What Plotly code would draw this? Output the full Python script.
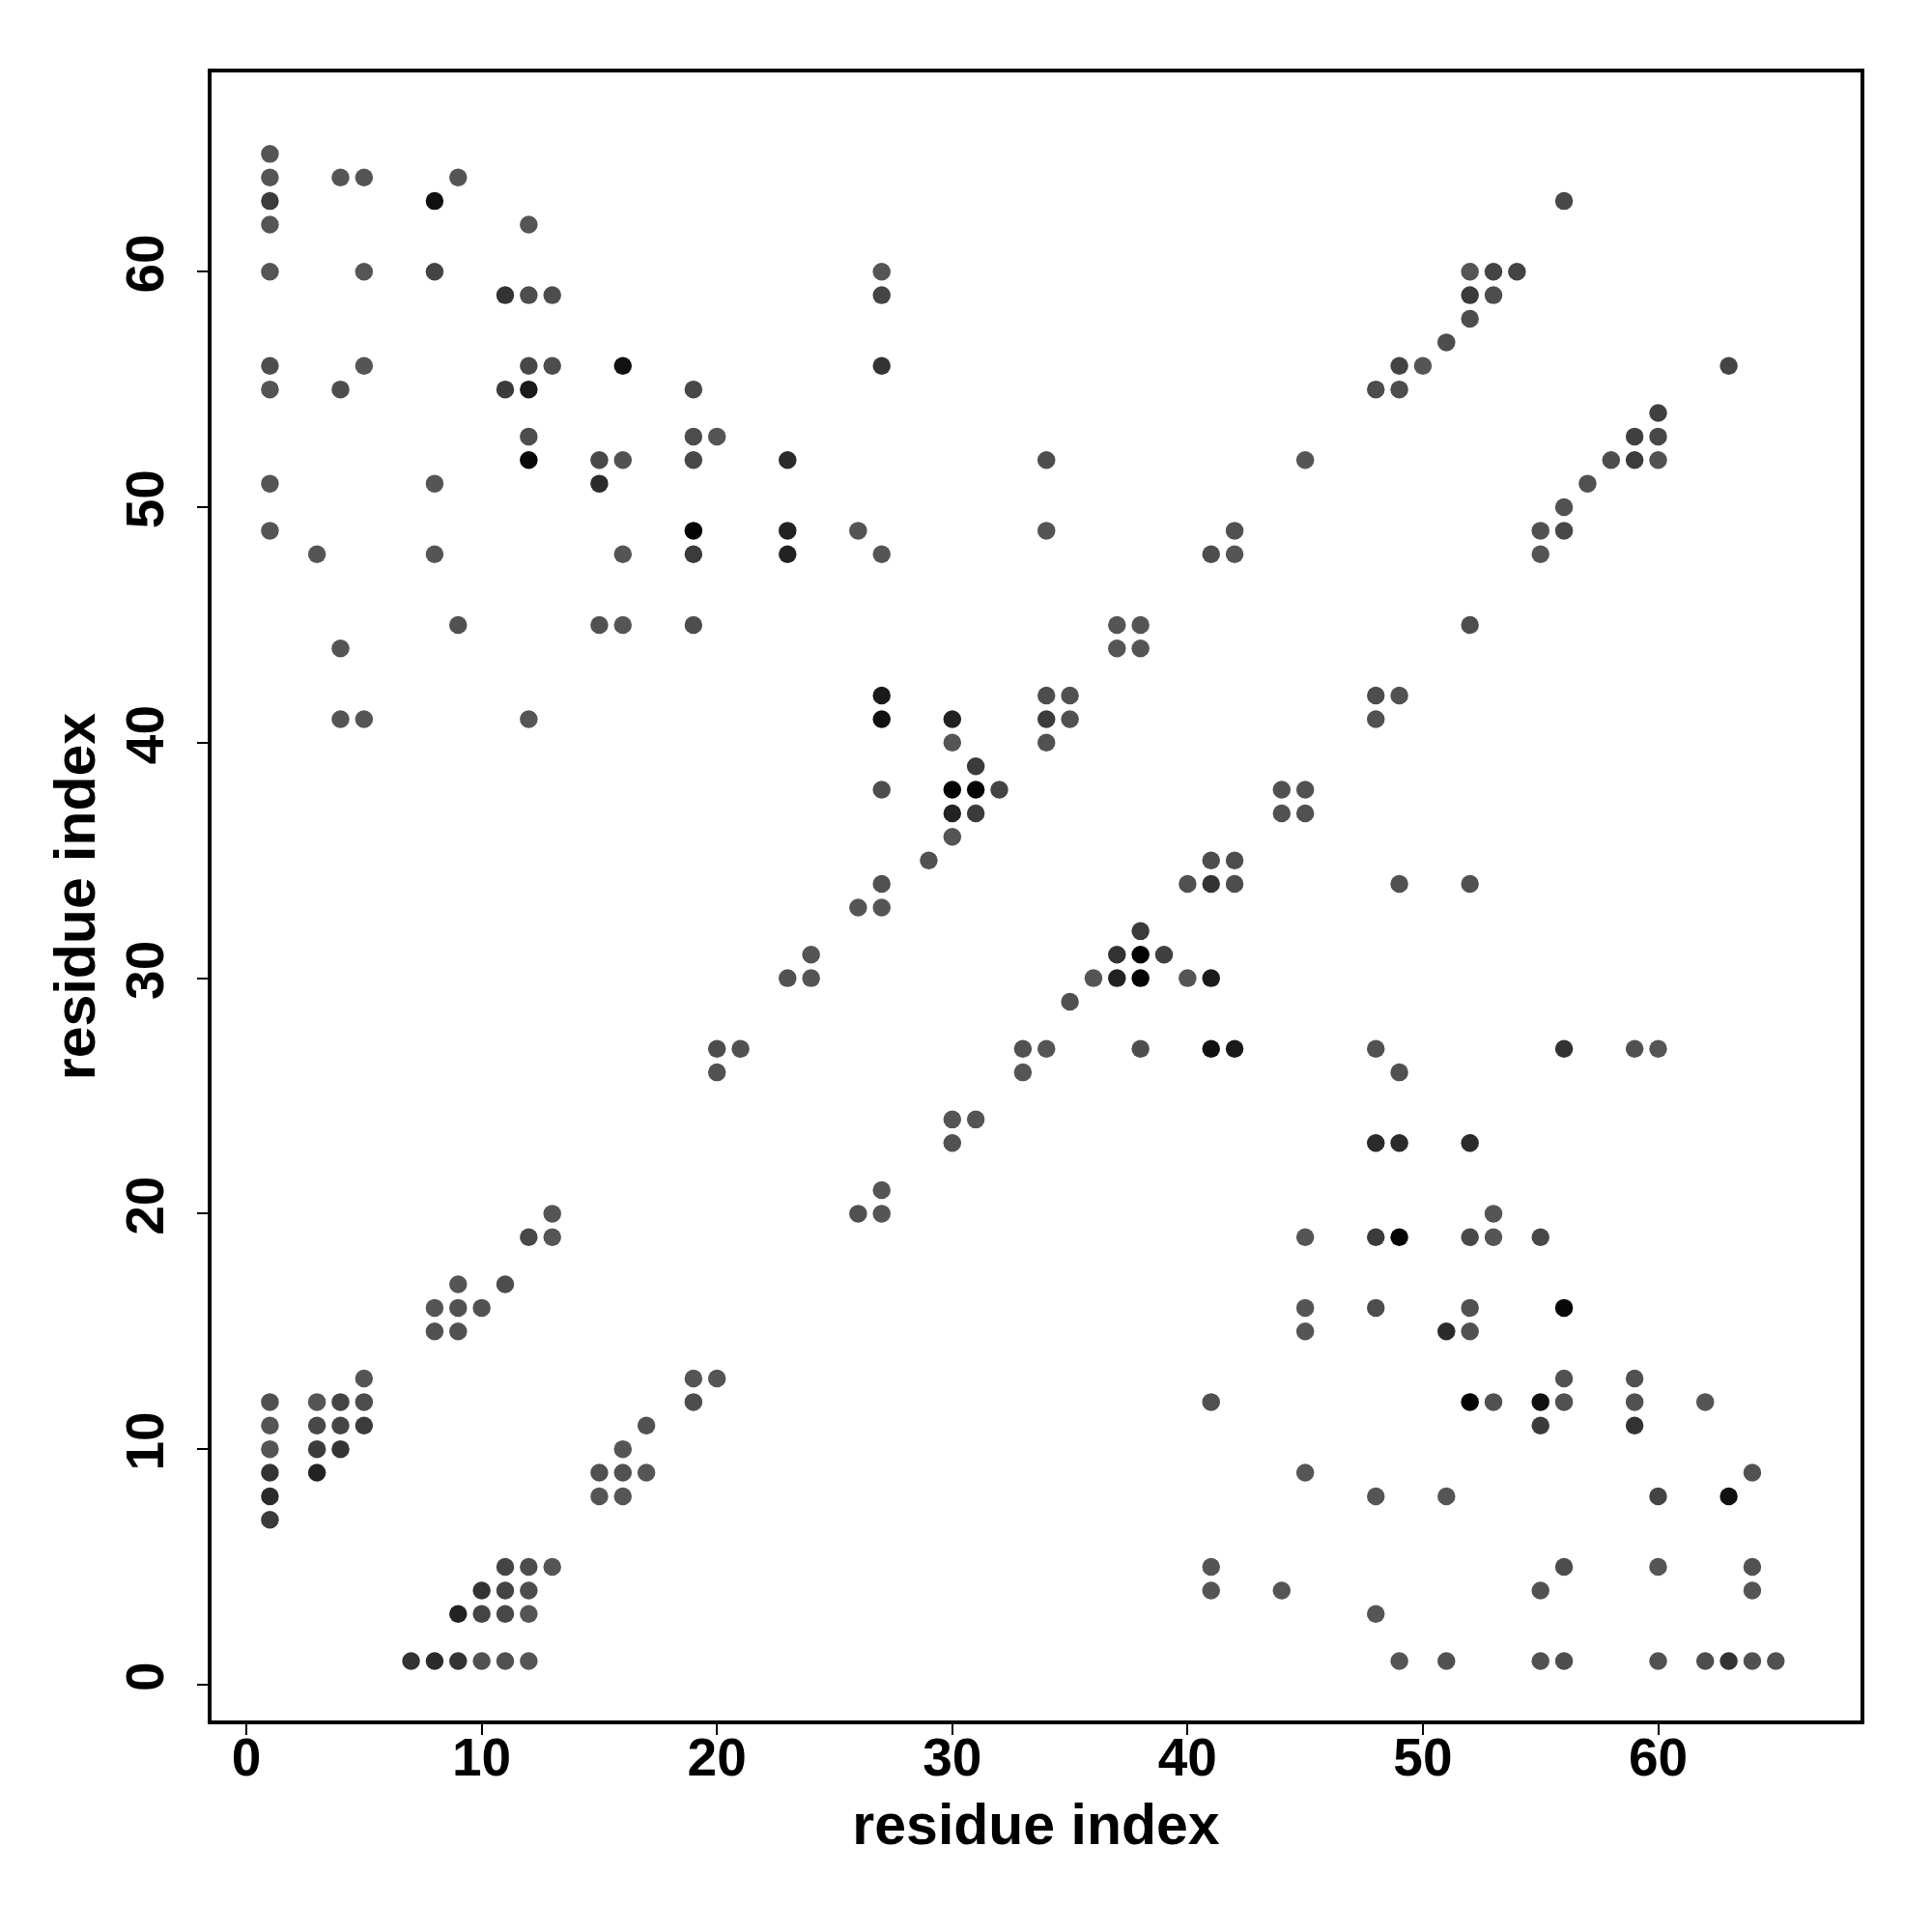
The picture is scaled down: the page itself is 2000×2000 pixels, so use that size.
import plotly.graph_objects as go

# residue contacts: x index, y index, contact strength (0 = weak/grey, 1 = strong/black)
contact_x = [
    1,                                   # y=65
    1, 4, 5, 9,                          # y=64
    1, 8, 56,                            # y=63
    1, 12,                               # y=62
    1, 5, 8, 27, 52, 53, 54,             # y=60
    11, 12, 13, 27, 52, 53,              # y=59
    52,                                  # y=58
    51,                                  # y=57
    1, 5, 12, 13, 16, 27, 49, 50, 63,    # y=56
    1, 4, 11, 12, 19, 48, 49,            # y=55
    60,                                  # y=54
    12, 19, 20, 59, 60,                  # y=53
    12, 15, 16, 19, 23, 34, 45, 58, 59, 60,  # y=52
    1, 8, 15, 57,                        # y=51
    56,                                  # y=50
    1, 19, 23, 26, 34, 42, 55, 56,       # y=49
    3, 8, 16, 19, 23, 27, 41, 42, 55,    # y=48
    9, 15, 16, 19, 37, 38, 52,           # y=45
    4, 37, 38,                           # y=44
    27, 34, 35, 48, 49,                  # y=42
    4, 5, 12, 27, 30, 34, 35, 48,        # y=41
    30, 34,                              # y=40
    31,                                  # y=39
    27, 30, 31, 32, 44, 45,              # y=38
    30, 31, 44, 45,                      # y=37
    30,                                  # y=36
    29, 41, 42,                          # y=35
    27, 40, 41, 42, 49, 52,              # y=34
    26, 27,                              # y=33
    38,                                  # y=32
    24, 37, 38, 39,                      # y=31
    23, 24, 36, 37, 38, 40, 41,          # y=30
    35,                                  # y=29
    20, 21, 33, 34, 38, 41, 42, 48, 56, 59, 60,  # y=27
    20, 33, 49,                          # y=26
    30, 31,                              # y=24
    30, 48, 49, 52,                      # y=23
    27,                                  # y=21
    13, 26, 27, 53,                      # y=20
    12, 13, 45, 48, 49, 52, 53, 55,      # y=19
    9, 11,                               # y=17
    8, 9, 10, 45, 48, 52, 56,            # y=16
    8, 9, 45, 51, 52,                    # y=15
    5, 19, 20, 56, 59,                   # y=13
    1, 3, 4, 5, 19, 41, 52, 53, 55, 56, 59, 62,  # y=12
    1, 3, 4, 5, 17, 55, 59,              # y=11
    1, 3, 4, 16,                         # y=10
    1, 3, 15, 16, 17, 45, 64,            # y=9
    1, 15, 16, 48, 51, 60, 63,           # y=8
    1,                                   # y=7
    11, 12, 13, 41, 56, 60, 64,          # y=5
    10, 11, 12, 41, 44, 55, 64,          # y=4
    9, 10, 11, 12, 48,                   # y=3
    7, 8, 9, 10, 11, 12, 49, 51, 55, 56, 60, 62, 63, 64, 65,  # y=1
]

contact_y = [
    65,
    64, 64, 64, 64,
    63, 63, 63,
    62, 62,
    60, 60, 60, 60, 60, 60, 60,
    59, 59, 59, 59, 59, 59,
    58,
    57,
    56, 56, 56, 56, 56, 56, 56, 56, 56,
    55, 55, 55, 55, 55, 55, 55,
    54,
    53, 53, 53, 53, 53,
    52, 52, 52, 52, 52, 52, 52, 52, 52, 52,
    51, 51, 51, 51,
    50,
    49, 49, 49, 49, 49, 49, 49, 49,
    48, 48, 48, 48, 48, 48, 48, 48, 48,
    45, 45, 45, 45, 45, 45, 45,
    44, 44, 44,
    42, 42, 42, 42, 42,
    41, 41, 41, 41, 41, 41, 41, 41,
    40, 40,
    39,
    38, 38, 38, 38, 38, 38,
    37, 37, 37, 37,
    36,
    35, 35, 35,
    34, 34, 34, 34, 34, 34,
    33, 33,
    32,
    31, 31, 31, 31,
    30, 30, 30, 30, 30, 30, 30,
    29,
    27, 27, 27, 27, 27, 27, 27, 27, 27, 27, 27,
    26, 26, 26,
    24, 24,
    23, 23, 23, 23,
    21,
    20, 20, 20, 20,
    19, 19, 19, 19, 19, 19, 19, 19,
    17, 17,
    16, 16, 16, 16, 16, 16, 16,
    15, 15, 15, 15, 15,
    13, 13, 13, 13, 13,
    12, 12, 12, 12, 12, 12, 12, 12, 12, 12, 12, 12,
    11, 11, 11, 11, 11, 11, 11,
    10, 10, 10, 10,
    9, 9, 9, 9, 9, 9, 9,
    8, 8, 8, 8, 8, 8, 8,
    7,
    5, 5, 5, 5, 5, 5, 5,
    4, 4, 4, 4, 4, 4, 4,
    3, 3, 3, 3, 3,
    1, 1, 1, 1, 1, 1, 1, 1, 1, 1, 1, 1, 1, 1, 1,
]

contact_strength = [
    0,
    0, 0, 0, 0,
    0.3, 0.8, 0.15,
    0, 0,
    0, 0, 0.2, 0, 0, 0.2, 0.2,
    0.4, 0.1, 0.1, 0.2, 0.3, 0.1,
    0.1,
    0.1,
    0.1, 0, 0.15, 0.1, 0.8, 0.4, 0.2, 0, 0.2,
    0, 0.1, 0.3, 0.7, 0.15, 0.1, 0.1,
    0.25,
    0.1, 0.1, 0, 0.25, 0.15,
    0.9, 0.15, 0.05, 0.15, 0.5, 0.1, 0, 0.1, 0.3, 0.05,
    0, 0, 0.5, 0.05,
    0.05,
    0, 0.95, 0.6, 0, 0, 0.05, 0.05, 0.15,
    0, 0, 0, 0.3, 0.6, 0, 0.1, 0, 0,
    0.05, 0.05, 0, 0.1, 0, 0, 0.1,
    0, 0, 0,
    0.7, 0.1, 0.05, 0.1, 0.05,
    0, 0, 0, 0.8, 0.6, 0.3, 0.05, 0.05,
    0, 0.05,
    0.3,
    0.1, 0.95, 0.95, 0.2, 0.05, 0.05,
    0.6, 0.3, 0.05, 0.05,
    0,
    0.05, 0.1, 0.1,
    0.05, 0.05, 0.4, 0.1, 0.05, 0.05,
    0, 0,
    0.3,
    0, 0.4, 0.95, 0.25,
    0.05, 0, 0, 0.6, 0.95, 0, 0.7,
    0.05,
    0.1, 0.05, 0.05, 0, 0.1, 0.8, 0.7, 0.05, 0.4, 0.05, 0,
    0.05, 0, 0.05,
    0, 0,
    0.05, 0.5, 0.5, 0.5,
    0,
    0, 0.05, 0, 0,
    0.15, 0, 0, 0.3, 0.95, 0.15, 0, 0.15,
    0, 0.1,
    0, 0.05, 0.05, 0, 0.1, 0.05, 0.9,
    0.05, 0.05, 0, 0.5, 0.05,
    0, 0, 0, 0.05, 0.05,
    0.05, 0, 0.2, 0.1, 0.1, 0.05, 0.95, 0.05, 0.8, 0.05, 0.05, 0,
    0, 0.15, 0.2, 0.3, 0.05, 0.3, 0.4,
    0, 0.3, 0.4, 0,
    0.4, 0.6, 0.05, 0.05, 0, 0, 0.05,
    0.5, 0, 0, 0, 0, 0.2, 0.8,
    0.3,
    0.2, 0.1, 0, 0, 0.1, 0, 0.05,
    0.4, 0.2, 0.1, 0, 0, 0.05, 0,
    0.6, 0.2, 0.15, 0, 0,
    0.4, 0.5, 0.4, 0.05, 0.05, 0, 0, 0.05, 0.05, 0.1, 0.05, 0.1, 0.4, 0.05, 0.05,
]

assert len(contact_x) == len(contact_y) == len(contact_strength)

tick_values = [0, 10, 20, 30, 40, 50, 60]
axis_title = "residue index"

FONT = "Liberation Sans, Arial, Helvetica, sans-serif"

fig = go.Figure(
    go.Scatter(
        x=contact_x,
        y=contact_y,
        mode="markers",
        marker=dict(
            size=18.5,
            color=contact_strength,
            colorscale=[[0, "#555555"], [1, "#000000"]],
            cmin=0,
            cmax=1,
            showscale=False,
            line=dict(width=0),
        ),
        hoverinfo="x+y",
    )
)

axis_common = dict(
    tickvals=tick_values,
    ticktext=[str(v) for v in tick_values],
    ticks="outside",
    ticklen=11,
    tickwidth=2,
    tickcolor="black",
    showline=True,
    linewidth=4,
    linecolor="black",
    mirror=True,
    showgrid=False,
    zeroline=False,
    tickfont=dict(family=FONT, size=55, color="black", weight="bold"),
)

fig.update_xaxes(
    range=[-1.48, 68.6],
    ticklabelstandoff=-24,
    title=dict(text=axis_title, font=dict(family=FONT, size=59, color="black", weight="bold"), standoff=20),
    **axis_common,
)
fig.update_yaxes(
    range=[-1.52, 68.46],
    tickangle=-90,
    ticklabelstandoff=13,
    title=dict(text=axis_title, font=dict(family=FONT, size=59, color="black", weight="bold"), standoff=2),
    **axis_common,
)

fig.update_layout(
    width=2000,
    height=2000,
    margin=dict(l=211, r=82, t=67, b=227),
    plot_bgcolor="white",
    paper_bgcolor="white",
    showlegend=False,
    font=dict(family=FONT, color="black"),
)

fig.write_html("out.html")
